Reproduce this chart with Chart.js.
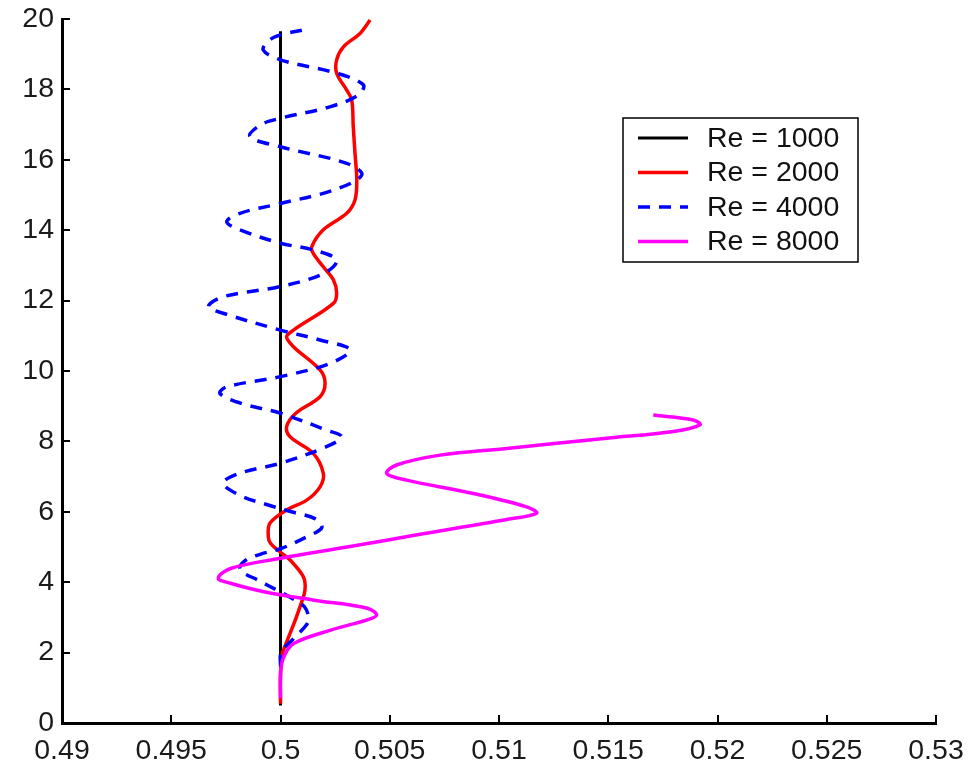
<!DOCTYPE html>
<html>
<head>
<meta charset="utf-8">
<script src="https://cdn.jsdelivr.net/npm/chart.js@4.4.0/dist/chart.umd.min.js"></script>
<style>
  html, body { margin: 0; padding: 0; background: #fff; }
  #wrap { width: 970px; height: 762px; }
</style>
</head>
<body>
<div id="wrap"><canvas id="chart" width="970" height="762"></canvas></div>
<script>
// ── Data (x = velocity, y = height) ─────────────────────────────
const seriesLabels = ['Re = 1000', 'Re = 2000', 'Re = 4000', 'Re = 8000'];

const re1000X = [0.5, 0.5, 0.5, 0.5, 0.5, 0.5];
const re1000Y = [0.5, 4, 8, 12, 16, 19.65];

const re2000X = [0.5, 0.5, 0.50006, 0.50028, 0.5006, 0.50089, 0.50112, 0.50104, 0.50044, 0.5, 0.49955,
  0.49944, 0.49952, 0.50028, 0.5012, 0.50181, 0.50196, 0.5015, 0.50044, 0.50028, 0.5007, 0.50181,
  0.50204, 0.50181, 0.50059, 0.50028, 0.50059, 0.50242, 0.50257, 0.50242, 0.50196, 0.5015, 0.50143,
  0.50196, 0.50303, 0.50341, 0.50349, 0.50341, 0.50333, 0.50326, 0.50303, 0.50257, 0.50257, 0.50288,
  0.50364, 0.5041];
const re2000Y = [0.55, 1.2, 1.9, 2.3, 2.8, 3.3, 3.78, 4.16, 4.63, 4.85, 5.1,
  5.3, 5.68, 6.05, 6.33, 6.71, 7.09, 7.66, 8.13, 8.42, 8.8, 9.27,
  9.65, 10.03, 10.69, 10.97, 11.16, 11.92, 12.21, 12.59, 12.96, 13.34, 13.53,
  14.01, 14.48, 14.86, 15.43, 16.18, 16.94, 17.7, 17.98, 18.46, 18.84, 19.21,
  19.59, 19.97];

const re4000X = [0.5, 0.50003, 0.5006, 0.5012, 0.50128, 0.5011, 0.5005, 0.49982, 0.499, 0.49815,
  0.49835, 0.4991, 0.5, 0.5012, 0.50189, 0.5016, 0.5005, 0.4994, 0.4982, 0.49738,
  0.4981, 0.5, 0.5021, 0.5028, 0.5021, 0.5, 0.4982, 0.49723, 0.49753, 0.5,
  0.50229, 0.50318, 0.50181, 0.5, 0.49738, 0.4967, 0.49738, 0.5, 0.50198, 0.50257,
  0.5015, 0.5, 0.49815, 0.49754, 0.49815, 0.5, 0.50244, 0.50372, 0.50303, 0.5,
  0.4986, 0.49908, 0.5, 0.50229, 0.50356, 0.50379, 0.50257, 0.5, 0.49921, 0.4995,
  0.5, 0.50104];
const re4000Y = [1.6, 2.0, 2.4, 2.8, 3.0, 3.3, 3.55, 3.78, 4.05, 4.35,
  4.6, 4.8, 4.95, 5.29, 5.55, 5.8, 6.0, 6.2, 6.45, 6.81,
  7.09, 7.38, 7.85, 8.13, 8.32, 8.8, 9.08, 9.36, 9.55, 9.84,
  10.22, 10.6, 10.88, 11.16, 11.64, 11.83, 12.11, 12.4, 12.77, 13.15,
  13.44, 13.63, 14.01, 14.24, 14.48, 14.76, 15.14, 15.57, 15.9, 16.37,
  16.66, 16.99, 17.18, 17.51, 17.84, 18.13, 18.46, 18.84, 19.12, 19.4,
  19.55, 19.69];

const re8000X = [0.5, 0.5, 0.50015, 0.50061, 0.5023, 0.50397, 0.5044, 0.50397, 0.50153, 0.49924,
  0.49771, 0.49715, 0.49771, 0.5, 0.50305, 0.50639, 0.51035, 0.51172, 0.51126,
  0.50882, 0.50577, 0.50486, 0.50531, 0.50731, 0.51035, 0.51493, 0.51798, 0.5192, 0.51889,
  0.51706];
const re8000Y = [0.7, 1.42, 1.88, 2.26, 2.64, 2.93, 3.07, 3.26, 3.49, 3.73,
  3.97, 4.11, 4.39, 4.68, 5.0, 5.36, 5.78, 5.96, 6.14,
  6.52, 6.9, 7.09, 7.33, 7.61, 7.8, 8.09, 8.28, 8.47, 8.61,
  8.75];

const xTicks = [0.49, 0.495, 0.5, 0.505, 0.51, 0.515, 0.52, 0.525, 0.53];
const yTicks = [0, 2, 4, 6, 8, 10, 12, 14, 16, 18, 20];

const FONT = "'Liberation Sans', Arial, Helvetica, sans-serif";
const pts = (xs, ys) => xs.map((x, i) => ({ x, y: ys[i] }));

// ── Inward tick marks (MATLAB style) ────────────────────────────
const inwardTicks = {
  id: 'inwardTicks',
  afterDraw(chart) {
    const { ctx, chartArea: a, scales: { x, y } } = chart;
    ctx.save();
    ctx.strokeStyle = '#000';
    ctx.lineWidth = 2;
    ctx.beginPath();
    xTicks.forEach(v => {
      const px = Math.round(x.getPixelForValue(v));
      ctx.moveTo(px, a.bottom); ctx.lineTo(px, a.bottom - 8);
    });
    yTicks.forEach(v => {
      const py = Math.round(y.getPixelForValue(v));
      ctx.moveTo(a.left, py); ctx.lineTo(a.left + 8, py);
    });
    ctx.stroke();
    ctx.restore();
  },
};

// ── Boxed legend inside the plot ────────────────────────────────
const boxLegend = {
  id: 'boxLegend',
  afterDraw(chart) {
    const { ctx } = chart;
    const bx = 623, by = 118, bw = 235, bh = 144;
    ctx.save();
    ctx.fillStyle = '#fff';
    ctx.fillRect(bx, by, bw, bh);
    ctx.strokeStyle = '#000';
    ctx.lineWidth = 1.5;
    ctx.strokeRect(bx, by, bw, bh);
    ctx.font = `28.5px ${FONT}`;
    ctx.textBaseline = 'middle';
    ctx.textAlign = 'left';
    chart.data.datasets.forEach((ds, i) => {
      const cy = by + 20 + i * 34.5;
      ctx.strokeStyle = ds.borderColor;
      ctx.lineWidth = ds.borderWidth;
      ctx.setLineDash(ds.borderDash || []);
      ctx.beginPath();
      ctx.moveTo(bx + 15, cy); ctx.lineTo(bx + 65, cy);
      ctx.stroke();
      ctx.setLineDash([]);
      ctx.fillStyle = '#111';
      ctx.fillText(ds.label, bx + 84, cy + 1);
    });
    ctx.restore();
  },
};

const line = (label, xs, ys, color, order, extra) => Object.assign({
  label,
  data: pts(xs, ys),
  showLine: true,
  borderColor: color,
  backgroundColor: color,
  borderWidth: 3.5,
  pointRadius: 0,
  tension: 0.35,
  order,
}, extra || {});

new Chart(document.getElementById('chart'), {
  type: 'scatter',
  data: {
    datasets: [
      line(seriesLabels[0], re1000X, re1000Y, '#000000', 4, { borderWidth: 3, tension: 0 }),
      line(seriesLabels[1], re2000X, re2000Y, '#ff0000', 3),
      line(seriesLabels[2], re4000X, re4000Y, '#0000ff', 2, { borderDash: [12, 9] }),
      line(seriesLabels[3], re8000X, re8000Y, '#ff00ff', 1),
    ],
  },
  options: {
    responsive: false,
    animation: false,
    events: [],
    layout: { padding: { top: 19, right: 34, left: 0, bottom: 0 } },
    plugins: { legend: { display: false }, tooltip: { enabled: false } },
    scales: {
      x: {
        type: 'linear', min: 0.49, max: 0.53,
        afterBuildTicks: s => { s.ticks = xTicks.map(value => ({ value })); },
        afterFit: s => { s.height = 39; s.paddingLeft = 0; s.paddingRight = 0; },
        grid: { display: false, drawTicks: false },
        border: { display: true, color: '#000', width: 3 },
        ticks: {
          color: '#1a1a1a', font: { family: FONT, size: 28.5 }, padding: 11,
          maxRotation: 0, autoSkip: false,
          callback: v => String(parseFloat(v.toFixed(3))),
        },
      },
      y: {
        type: 'linear', min: 0, max: 20,
        afterBuildTicks: s => { s.ticks = yTicks.map(value => ({ value })); },
        afterFit: s => { s.width = 62; s.paddingTop = 0; s.paddingBottom = 0; },
        grid: { display: false, drawTicks: false },
        border: { display: true, color: '#000', width: 3 },
        ticks: {
          color: '#1a1a1a', font: { family: FONT, size: 28.5 }, padding: 8,
          autoSkip: false,
        },
      },
    },
  },
  plugins: [inwardTicks, boxLegend],
});
</script>
</body>
</html>
